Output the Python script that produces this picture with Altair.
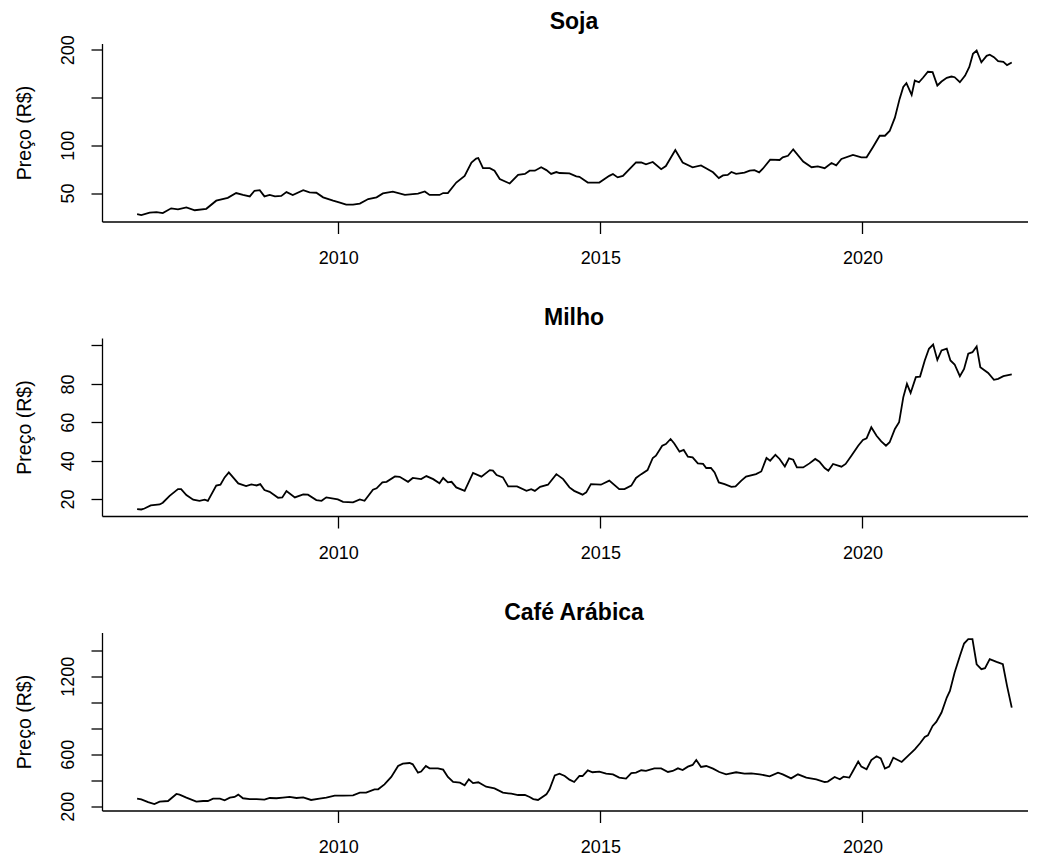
import altair as alt
import pandas as pd

# ---------------- data ----------------
soja_ano = [2006.16, 2006.24, 2006.40, 2006.53, 2006.65, 2006.81, 2006.94, 2007.10, 2007.26, 2007.48,
            2007.67, 2007.89, 2008.05, 2008.18, 2008.31, 2008.40, 2008.50, 2008.59, 2008.69, 2008.79,
            2008.91, 2009.01, 2009.13, 2009.33, 2009.45, 2009.58, 2009.71, 2009.90, 2010.03, 2010.15,
            2010.28, 2010.41, 2010.57, 2010.73, 2010.85, 2011.04, 2011.27, 2011.52, 2011.65, 2011.74,
            2011.93, 2012.00, 2012.09, 2012.25, 2012.41, 2012.54, 2012.63, 2012.67, 2012.76, 2012.89,
            2012.98, 2013.08, 2013.27, 2013.43, 2013.56, 2013.65, 2013.75, 2013.87, 2013.97, 2014.06,
            2014.16, 2014.22,
            2014.41, 2014.54, 2014.60, 2014.76, 2014.98, 2015.17, 2015.24, 2015.33, 2015.43, 2015.68,
            2015.78, 2015.87, 2016.00, 2016.16, 2016.25, 2016.43, 2016.57, 2016.76, 2016.92, 2017.05,
            2017.15, 2017.26, 2017.34, 2017.43, 2017.50, 2017.59, 2017.75, 2017.85, 2017.94, 2018.03,
            2018.10, 2018.24, 2018.42, 2018.48, 2018.58, 2018.68, 2018.87, 2019.03, 2019.15, 2019.28,
            2019.41, 2019.50, 2019.60, 2019.82, 2019.98, 2020.08, 2020.20, 2020.33, 2020.43, 2020.52,
            2020.62, 2020.71, 2020.78, 2020.84, 2020.94, 2021.00, 2021.08, 2021.16, 2021.25, 2021.34,
            2021.43, 2021.51, 2021.61, 2021.70, 2021.76, 2021.86, 2021.96, 2022.04, 2022.11, 2022.18,
            2022.27, 2022.37, 2022.43, 2022.51, 2022.59, 2022.69, 2022.76, 2022.85]
soja_preco = [28, 27, 29.4, 30, 29, 34, 33, 35, 32, 33.5,
              42, 45, 50, 48, 46.5, 52.4, 53, 46.5, 48, 46.5,
              47, 51, 48, 53, 50.7, 50.3, 45.5, 42, 40, 37.8,
              37.8, 39, 43.7, 45.5, 49.6, 51.4, 48, 49.3, 51.7, 48,
              48, 50, 50, 61, 68, 82, 86, 86.7, 76, 76,
              73.4, 64.7, 60, 69, 70, 73.4, 73.4, 77, 74, 70,
              72, 71,
              70.6, 67.5, 67, 61, 61, 68, 70, 66.4, 68, 82,
              82, 80, 82.5, 75, 78.3, 95, 82, 77, 79, 75,
              71.7, 65.7, 68.5, 69, 72, 70, 71.3, 73.4, 74, 71.7,
              75.5, 85, 84.6, 87.4, 89, 95.8, 83, 77, 78, 76,
              81.5, 79, 85.7, 90, 87.4, 87.4, 98, 110, 110, 115,
              129, 148.6, 161, 165, 152.8, 167.8, 166, 171, 177, 176.6,
              162.6, 166.8, 170.6, 172, 171.3, 166, 173, 182, 195.8, 199.3,
              187, 193.7, 194.8, 192.3, 188, 187.4, 184, 186.7]

milho_ano = [2006.16, 2006.24, 2006.30, 2006.42, 2006.59, 2006.65, 2006.78, 2006.94, 2007.00, 2007.10,
             2007.23, 2007.35, 2007.45, 2007.51, 2007.67, 2007.75, 2007.83, 2007.91, 2008.09, 2008.24,
             2008.34, 2008.44, 2008.51, 2008.59, 2008.69, 2008.85, 2008.93, 2009.01, 2009.17, 2009.33,
             2009.42, 2009.58, 2009.68, 2009.77, 2009.99, 2010.09, 2010.28, 2010.41, 2010.50, 2010.66,
             2010.73, 2010.84, 2010.92, 2011.08, 2011.17, 2011.33, 2011.42, 2011.58, 2011.68, 2011.81,
             2011.93, 2012.00, 2012.09, 2012.16, 2012.25, 2012.41, 2012.57, 2012.73, 2012.89, 2012.95,
             2013.02, 2013.14, 2013.24, 2013.41, 2013.59, 2013.68, 2013.75, 2013.85, 2014.00, 2014.16,
             2014.29, 2014.41,
             2014.50, 2014.66, 2014.73, 2014.82, 2015.01, 2015.17, 2015.36, 2015.46, 2015.59, 2015.68,
             2015.78, 2015.90, 2016.00, 2016.06, 2016.18, 2016.25, 2016.34, 2016.41, 2016.51, 2016.59,
             2016.67, 2016.76, 2016.86, 2016.96, 2017.02, 2017.11, 2017.18, 2017.26, 2017.37, 2017.50,
             2017.58, 2017.69, 2017.78, 2017.97, 2018.07, 2018.17, 2018.24, 2018.34, 2018.42, 2018.52,
             2018.60, 2018.68, 2018.75, 2018.87, 2018.99, 2019.10, 2019.18, 2019.28, 2019.35, 2019.44,
             2019.60, 2019.68, 2019.79, 2019.92, 2020.01, 2020.08, 2020.17, 2020.27, 2020.36, 2020.45,
             2020.52, 2020.62, 2020.70, 2020.78, 2020.85, 2020.92, 2021.02, 2021.10, 2021.19, 2021.27,
             2021.35, 2021.43, 2021.51, 2021.61, 2021.68, 2021.76, 2021.86, 2021.94, 2022.02, 2022.10,
             2022.18, 2022.25, 2022.40, 2022.51, 2022.59, 2022.69, 2022.85]
milho_preco = [14.8, 14.6, 15.1, 16.7, 17.2, 18.1, 21.7, 25.2, 25.2, 22.1,
               19.7, 19.1, 19.7, 19.1, 27, 27.5, 31.3, 33.9, 28.2, 26.8,
               27.7, 27.1, 27.8, 24.7, 23.8, 20.7, 20.9, 24.2, 20.9, 22.4,
               22.3, 19.5, 19.1, 20.9, 19.8, 18.6, 18.3, 19.8, 19.1, 24.9,
               25.6, 28.7, 29, 31.8, 31.6, 29, 31, 30.4, 32, 30.4,
               28.3, 31, 28.7, 29, 26.1, 24.3, 33.6, 31.7, 35.1, 34.8,
               32.5, 31.3, 26.6, 26.6, 24.3, 25.2, 24.3, 26.4, 27.5, 33,
               30.4, 26.1,
               24.3, 22.3, 23.5, 27.8, 27.5, 29.6, 25.2, 25.2, 27, 31,
               33, 35.1, 41.4, 42.6, 47.8, 48.7, 51.3, 49, 44.7, 45.6,
               42.1, 41.7, 38.6, 38.3, 36.2, 36.2, 33.9, 28.7, 27.8, 26.4,
               26.6, 29.6, 31.7, 33, 34.4, 41.4, 40, 43.1, 40.9, 37,
               41.2, 40.5, 36.5, 36.5, 38.6, 40.9, 39.5, 36.2, 34.8, 38.3,
               36.9, 38.3, 42.6, 47.8, 50.8, 51.7, 57.4, 53, 50.1, 47.8,
               49.6, 56.5, 60, 73, 80, 75.3, 83.5, 83.8, 92.2, 98.3,
               100.5, 92.5, 97.4, 98.3, 92.2, 90.1, 84, 87.8, 95.7, 96.5,
               99.5, 88.7, 85.7, 82.1, 82.6, 84, 84.9]

cafe_ano = [2006.16, 2006.24, 2006.37, 2006.49, 2006.59, 2006.75, 2006.91, 2006.97, 2007.10, 2007.29,
            2007.42, 2007.51, 2007.61, 2007.74, 2007.83, 2007.93, 2008.02, 2008.09, 2008.18, 2008.31,
            2008.44, 2008.59, 2008.69, 2008.82, 2008.94, 2009.07, 2009.20, 2009.33, 2009.48, 2009.64,
            2009.77, 2009.93, 2010.09, 2010.28, 2010.41, 2010.53, 2010.69, 2010.76, 2010.88, 2011.01,
            2011.14, 2011.23, 2011.36, 2011.42, 2011.52, 2011.58, 2011.67, 2011.74, 2011.90, 2012.00,
            2012.09, 2012.19, 2012.32, 2012.41, 2012.49, 2012.57, 2012.67, 2012.82, 2012.98, 2013.14,
            2013.30, 2013.43, 2013.56, 2013.65, 2013.72, 2013.81, 2013.97, 2014.03, 2014.13, 2014.22,
            2014.32, 2014.41,
            2014.50, 2014.60, 2014.66, 2014.76, 2014.85, 2014.98, 2015.11, 2015.24, 2015.36, 2015.49,
            2015.59, 2015.68, 2015.78, 2015.87, 2016.03, 2016.16, 2016.29, 2016.38, 2016.48, 2016.57,
            2016.67, 2016.76, 2016.83, 2016.92, 2017.02, 2017.15, 2017.27, 2017.40, 2017.59, 2017.75,
            2017.88, 2018.04, 2018.23, 2018.39, 2018.48, 2018.64, 2018.77, 2018.93, 2019.12, 2019.28,
            2019.34, 2019.47, 2019.57, 2019.64, 2019.75, 2019.82, 2019.92, 2019.98, 2020.08, 2020.17,
            2020.27, 2020.35, 2020.43, 2020.51, 2020.59, 2020.75, 2020.90, 2021.00, 2021.10, 2021.19,
            2021.25, 2021.34, 2021.41, 2021.51, 2021.61, 2021.67, 2021.76, 2021.86, 2021.94, 2022.02,
            2022.10, 2022.18, 2022.27, 2022.34, 2022.43, 2022.56, 2022.68, 2022.76, 2022.85]
cafe_preco = [259, 254, 233, 218, 236, 241, 295, 290, 267, 236,
              241, 241, 259, 259, 246, 267, 272, 290, 262, 256,
              256, 251, 264, 262, 267, 272, 264, 269, 249, 259,
              267, 282, 282, 285, 305, 305, 331, 331, 369, 426,
              510, 528, 533, 523, 459, 467, 510, 492, 492, 482,
              426, 387, 382, 362, 408, 379, 385, 351, 338, 305,
              297, 287, 287, 272, 256, 249, 292, 331, 438, 451,
              433, 405,
              387, 433, 433, 477, 462, 467, 451, 446, 421, 413,
              456, 459, 477, 472, 492, 492, 464, 472, 492, 479,
              505, 518, 556, 503, 510, 490, 464, 446, 462, 451,
              454, 446, 431, 459, 446, 415, 446, 421, 408, 387,
              390, 426, 408, 428, 421, 472, 544, 505, 485, 556,
              585, 569, 490, 505, 574, 541, 600, 638, 685, 733,
              746, 818, 849, 921, 1036, 1087, 1228, 1356, 1451, 1485,
              1485, 1292, 1254, 1262, 1331, 1310, 1292, 1126, 959]

x_ticks = [2010, 2015, 2020]
soja_ticks, soja_labels = [50, 100, 150, 200], [50, 100, 200]
milho_ticks, milho_labels = [20, 40, 60, 80, 100], [20, 40, 60, 80]
cafe_ticks, cafe_labels = [200, 400, 600, 800, 1000, 1200, 1400], [200, 600, 1200]

FONT = "Liberation Sans"
W, H = 926, 178
X_DOMAIN = [2005.49, 2023.16]


def panel(anos, precos, titulo, y_domain, ticks, labels, title_offset):
    df = pd.DataFrame({"ano": anos, "preco": precos})
    label_expr = "indexof(%s, datum.value) >= 0 ? datum.label : ''" % str(labels)
    return (
        alt.Chart(df, title=alt.TitleParams(
            titulo, font=FONT, fontSize=23, fontWeight="bold", color="black",
            anchor="middle", offset=title_offset, dx=9))
        .mark_line(color="black", strokeWidth=1.8, clip=True)
        .encode(
            x=alt.X("ano:Q",
                    scale=alt.Scale(domain=X_DOMAIN, nice=False, zero=False),
                    axis=alt.Axis(values=x_ticks, format="d", title=None,
                                  tickSize=12, labelPadding=16, labelFontSize=18,
                                  labelFont=FONT, labelColor="black", grid=False,
                                  domainColor="black", tickColor="black",
                                  domainWidth=1.3, tickWidth=1.3)),
            y=alt.Y("preco:Q",
                    scale=alt.Scale(domain=y_domain, nice=False, zero=False),
                    axis=alt.Axis(values=ticks, labelExpr=label_expr, format="d",
                                  title="Preço (R$)", titleFont=FONT, titleFontSize=19.5,
                                  titleFontWeight="normal", titleColor="black",
                                  titlePadding=25,
                                  tickSize=11, labelPadding=14, labelFontSize=18,
                                  labelFont=FONT, labelColor="black", labelAngle=-90,
                                  labelAlign="center", labelBaseline="bottom",
                                  labelOverlap=False, grid=False,
                                  domainColor="black", tickColor="black",
                                  domainWidth=1.3, tickWidth=1.3)),
        )
        .properties(width=W, height=H)
    )


p1 = panel(soja_ano, soja_preco, "Soja", [20.2, 206.6], soja_ticks, soja_labels, 0.5)
p2 = panel(milho_ano, milho_preco, "Milho", [11.2, 103.9], milho_ticks, milho_labels, 8)
p3 = panel(cafe_ano, cafe_preco, "Café Arábica", [168, 1536], cafe_ticks, cafe_labels, 7.5)

chart = (
    alt.vconcat(p1, p2, p3, spacing=116.5, bounds="flush")
    .properties(padding={"left": 5, "top": 2.5, "right": 0, "bottom": 0},
                background="white")
    .configure_view(stroke=None)
)

chart.save("out.html", embed_options={"renderer": "svg", "actions": False})
